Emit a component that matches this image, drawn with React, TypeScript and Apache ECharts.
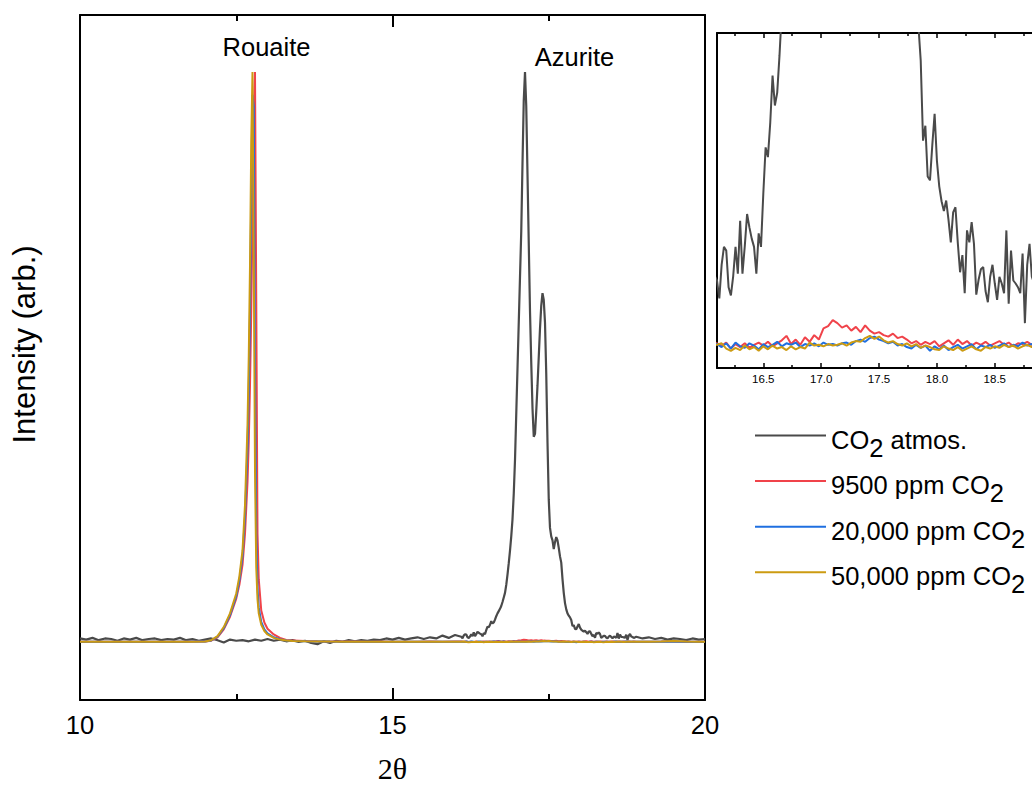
import React, { useEffect, useRef } from "react";
import * as echarts from "echarts";

const SANS = '"Liberation Sans", Arial, sans-serif';
const SERIF = '"Liberation Serif", "Times New Roman", serif';

const NAMES = ["CO2 atmos.", "9500 ppm CO2", "20,000 ppm CO2", "50,000 ppm CO2"];
const COLORS = ["#4a4a4a", "#f0434a", "#1f6fe0", "#cc9b12"];

const MAIN_X_TICKS = [10, 15, 20];
const INSET_MAJOR = [16.5, 17.0, 17.5, 18.0, 18.5];
const INSET_MINOR = [16.25, 16.75, 17.25, 17.75, 18.25, 18.75];

// sampling positions (2θ)
function grid(start: number, count: number, step: number): number[] {
  return Array.from({ length: count }, (_, i) => Math.round((start + i * step) * 100) / 100);
}
const ROUAITE_X = [12.0, 12.1, 12.2, 12.3, 12.4, 12.5, 12.55, 12.6, 12.64, 12.68, 12.7, 12.72, 12.74, 12.76, 12.78, 12.8, 12.82, 12.84, 12.86, 12.9, 12.95, 13.0, 13.1, 13.2, 13.3];
const HI_X = [18.9, 19.1, 19.3, 19.5, 19.7, 19.9, 20.0];
const BLACK_X = [...grid(10, 61, 0.1), ...grid(16.1, 139, 0.02), ...grid(18.9, 12, 0.1)];
const COLOR_X = [...grid(10, 10, 0.2), ...ROUAITE_X, ...grid(13.4, 14, 0.2), ...grid(16.1, 70, 0.04), ...HI_X];

// CO2 atmos. (black)
const atmosLow = [
  0.6, 0.4, 0.7, 0.3, 0.6, 0.5, 0.2, 0.6, 0.4, 0.7,
  0.3, 0.5, 0.6, 0.3, 0.5, 0.4, 0.7, 0.3, 0.5, 0.2,
  0.4, 0.6, 0.3, -0.1, 0.4, 0.2, 0.3, 0.1, 0.4, 0.2,
  0.5, 0.2, 0.4, 0.1, 0.3, 0.0, 0.2, -0.2, -0.4, 0.1,
  -0.2, 0.2, 0.0, 0.3, 0.1, 0.3, 0.2, 0.4, 0.3, 0.6,
  0.4, 0.7, 0.4, 0.6, 0.8, 0.5, 0.8, 0.6, 1.1, 0.7,
  1.2,
];
const atmosAzurite = [
  0.89, 0.65, 1.10, 1.34, 1.29, 0.80, 0.69, 0.95, 1.34, 0.98,
  1.69, 0.98, 1.35, 1.78, 1.60, 1.45, 1.34, 0.98, 1.52, 1.34,
  2.05, 2.67, 2.54, 3.00, 3.63, 3.23, 3.40, 3.90, 4.50, 5.00,
  5.40, 5.80, 6.30, 7.00, 7.80, 8.60, 10.0, 11.8, 13.8, 16.0,
  18.5, 21.5, 26.0, 31.9, 40.0, 48.0, 56.0, 64.0, 72.0, 84.0,
  95.0, 100, 94.0, 82.0, 70.0, 58.0, 49.0, 41.0, 36.0, 36.5,
  40.5, 45.0, 50.0, 55.0, 59.0, 61.2, 60.0, 56.0, 47.0, 35.0,
  25.0, 20.0, 18.5, 17.8, 16.3, 17.5, 18.4, 17.8, 16.5, 15.0,
  13.9, 11.0, 8.6, 6.8, 5.7, 5.0, 4.6, 4.3, 3.83, 2.76,
  2.96, 2.28, 2.23, 2.70, 3.12, 2.49, 2.15, 1.95, 1.82, 1.96,
  1.70, 1.40, 1.80, 1.87, 1.40, 1.00, 1.23, 0.72, 1.56, 1.40,
  1.67, 1.38, 0.70, 0.90, 1.04, 1.07, 0.75, 0.60, 0.94, 1.10,
  0.85, 0.63, 0.94, 0.85, 0.72, 1.56, 0.58, 1.29, 0.89, 0.85,
  0.80, 0.72, 1.25, 0.32, 1.10, 1.38, 0.94, 0.85, 0.70,
];
const atmosHigh = [0.9, 0.6, 0.8, 0.5, 0.7, 0.4, 0.6, 0.5, 0.3, 0.6, 0.4, 0.5];

// 9500 ppm (red)
const redLow = [0.02, 0.0, 0.03, 0.01, 0.02, 0.0, 0.03, 0.02, 0.04, 0.05];
const redPeak = [0.05, 0.2, 0.8, 2.2, 4.4, 7.6, 10.0, 13.5, 19, 28, 35, 45, 58, 74, 93, 100, 60, 19, 11, 5.5, 3.4, 2.3, 1.3, 0.7, 0.35];
const redMid = [0.22, 0.15, 0.11, 0.08, 0.06, 0.05, 0.04, 0.05, 0.03, 0.04, 0.03, 0.05, 0.04, 0.05];
const redInset = [
  0.05, 0.02, 0.06, -0.02, 0.04, 0.0, 0.05, -0.01, 0.03, 0.06,
  0.02, 0.07, 0.01, 0.05, 0.09, 0.15, 0.04, 0.10, 0.03, 0.13,
  0.07, 0.16, 0.10, 0.25, 0.28, 0.36, 0.32, 0.26, 0.29, 0.22,
  0.27, 0.20, 0.29, 0.22, 0.18, 0.20, 0.16, 0.14, 0.18, 0.12,
  0.14, 0.10, 0.05, 0.08, 0.03, 0.07, 0.04, 0.08, 0.01, 0.05,
  0.09, 0.03, 0.10, 0.04, 0.08, 0.02, 0.06, 0.03, 0.07, 0.02,
  0.05, 0.08, 0.03, 0.06, 0.01, 0.05, 0.04, 0.07, 0.03, 0.05,
];
const redHigh = [0.04, 0.03, 0.05, 0.08, 0.04, 0.03, 0.04];

// 20,000 ppm (blue)
const blueLow = [0.01, 0.02, 0.0, 0.02, 0.01, 0.03, 0.01, 0.02, 0.03, 0.05];
const bluePeak = [0.05, 0.25, 0.9, 2.4, 4.7, 8.0, 10.8, 15, 22, 34, 44, 58, 78, 96, 94, 48, 19, 9.5, 6.0, 3.5, 2.2, 1.5, 0.8, 0.45, 0.25];
const blueMid = [0.15, 0.1, 0.07, 0.05, 0.04, 0.03, 0.03, 0.02, 0.03, 0.02, 0.03, 0.02, 0.03, 0.04];
const blueInset = [
  0.04, 0.0, 0.05, -0.02, 0.06, 0.01, -0.01, 0.05, 0.02, -0.03,
  0.04, 0.0, 0.03, 0.07, 0.01, 0.05, 0.03, 0.06, 0.0, 0.04,
  0.02, 0.05, 0.01, 0.06, 0.03, 0.04, 0.02, 0.05, 0.06, 0.03,
  0.08, 0.10, 0.07, 0.12, 0.14, 0.10, 0.08, 0.05, 0.07, 0.02,
  0.04, 0.0, -0.02, 0.03, -0.01, 0.02, -0.05, 0.01, -0.03, 0.02,
  -0.04, 0.0, 0.03, -0.02, 0.01, 0.04, -0.03, 0.02, 0.0, 0.03,
  -0.01, 0.02, 0.05, 0.0, 0.03, 0.01, 0.06, 0.02, 0.04, 0.01,
];
const blueHigh = [0.02, 0.03, 0.02, 0.06, 0.03, 0.02, 0.03];

// 50,000 ppm (gold)
const goldLow = [0.0, 0.02, 0.01, 0.0, 0.02, 0.01, 0.03, 0.02, 0.03, 0.04];
const goldPeak = [0.05, 0.3, 1.0, 2.6, 5.0, 8.5, 11.5, 16, 24, 38, 50, 66, 88, 100, 68, 30, 13, 7.5, 5.0, 3.0, 1.9, 1.3, 0.7, 0.4, 0.25];
const goldMid = [0.15, 0.1, 0.07, 0.05, 0.04, 0.04, 0.03, 0.02, 0.03, 0.02, 0.02, 0.03, 0.02, 0.03];
const goldInset = [
  0.03, 0.05, -0.02, -0.05, -0.01, -0.04, 0.02, -0.03, 0.0, -0.05,
  0.01, -0.03, 0.02, -0.02, 0.0, -0.04, 0.01, -0.03, 0.0, -0.02,
  0.06, 0.02, 0.03, 0.01, 0.04, 0.02, 0.03, 0.05, 0.02, 0.06,
  0.08, 0.07, 0.12, 0.15, 0.11, 0.14, 0.09, 0.06, 0.08, 0.04,
  0.02, 0.05, 0.01, 0.04, -0.01, 0.02, 0.0, -0.03, -0.04, 0.01,
  -0.02, -0.04, 0.0, -0.05, -0.02, 0.01, -0.03, -0.05, 0.0, -0.02,
  0.01, -0.01, 0.03, 0.0, 0.02, -0.02, 0.01, 0.03, 0.0, 0.02,
];
const goldHigh = [0.02, 0.03, 0.05, 0.15, 0.06, 0.03, 0.02];

const SERIES_Y = [
  [...atmosLow, ...atmosAzurite, ...atmosHigh],
  [...redLow, ...redPeak, ...redMid, ...redInset, ...redHigh],
  [...blueLow, ...bluePeak, ...blueMid, ...blueInset, ...blueHigh],
  [...goldLow, ...goldPeak, ...goldMid, ...goldInset, ...goldHigh],
];
const SERIES_X = [BLACK_X, COLOR_X, COLOR_X, COLOR_X];

function pairs(xs: number[], ys: number[]) {
  return xs.map((x, i) => [x, ys[i]]);
}

function legendFormatter(name: string) {
  const parts = name.split("CO2");
  return parts.map((p) => (p ? `{m|${p}}` : "")).join("{m|CO}{s|2}");
}

const blackAxis = { color: "#000", width: 2 };

function buildOption() {
  const series: any[] = [];
  NAMES.forEach((name, i) => {
    series.push({
      name,
      type: "line",
      xAxisIndex: 0,
      yAxisIndex: 0,
      data: pairs(SERIES_X[i], SERIES_Y[i]),
      showSymbol: false,
      symbol: "none",
      color: COLORS[i],
      itemStyle: { color: COLORS[i] },
      lineStyle: { color: COLORS[i], width: i === 0 ? 2.2 : 2 },
      z: 2 + i,
    });
  });
  NAMES.forEach((name, i) => {
    series.push({
      name,
      type: "line",
      xAxisIndex: 2,
      yAxisIndex: 2,
      data: pairs(SERIES_X[i], SERIES_Y[i]),
      showSymbol: false,
      symbol: "none",
      clip: true,
      color: COLORS[i],
      itemStyle: { color: COLORS[i] },
      lineStyle: { color: COLORS[i], width: 2 },
      z: 2 + i,
    });
  });

  const insetLine = { color: "#000", width: 2 };
  const insetTick = { color: "#000", width: 1.5 };
  return {
    animation: false,
    backgroundColor: "#ffffff",
    grid: [
      { left: 80, top: 15, width: 625, height: 685, outerBoundsMode: "none", containLabel: false },
      { left: 717, top: 33, width: 316, height: 335, outerBoundsMode: "none", containLabel: false },
    ],
    legend: {
      data: NAMES,
      orient: "vertical",
      left: 755,
      top: 410.5,
      padding: 0,
      itemGap: -4.4,
      itemWidth: 71,
      itemHeight: 2,
      icon: "rect",
      selectedMode: false,
      formatter: legendFormatter,
      textStyle: {
        color: "#000",
        fontFamily: SANS,
        fontSize: 25.5,
        rich: {
          m: { color: "#000", fontFamily: SANS, fontSize: 25.5, lineHeight: 30, padding: [8, 0, 0, 0] },
          s: { color: "#000", fontFamily: SANS, fontSize: 25.5, lineHeight: 30, padding: [24, 0, 0, 0] },
        },
      },
    },
    xAxis: [
      {
        gridIndex: 0,
        type: "value",
        position: "bottom",
        min: 10,
        max: 20,
        interval: 5,
        axisLine: { show: true, onZero: false, lineStyle: blackAxis },
        axisTick: { show: true, inside: true, length: 12, lineStyle: blackAxis },
        minorTick: { show: true, splitNumber: 2, length: 6, lineStyle: blackAxis },
        axisLabel: {
          show: true,
          margin: 12,
          fontSize: 25.5,
          color: "#000",
          fontFamily: SANS,
          showMinLabel: true,
          showMaxLabel: true,
          formatter: (v: number) => (MAIN_X_TICKS.includes(v) ? String(v) : ""),
        },
        splitLine: { show: false },
        minorSplitLine: { show: false },
        name: "2θ",
        nameLocation: "middle",
        nameGap: 53,
        nameTextStyle: { fontFamily: SERIF, fontSize: 30, color: "#000" },
      },
      {
        gridIndex: 0,
        type: "value",
        position: "top",
        min: 10,
        max: 20,
        interval: 5,
        axisLine: { show: true, onZero: false, lineStyle: blackAxis },
        axisTick: { show: true, inside: true, length: 12, lineStyle: blackAxis },
        minorTick: { show: true, splitNumber: 2, length: 6, lineStyle: blackAxis },
        axisLabel: { show: false },
        splitLine: { show: false },
        minorSplitLine: { show: false },
      },
      {
        gridIndex: 1,
        type: "value",
        position: "bottom",
        min: 16.1,
        max: 18.83,
        axisLine: { show: true, onZero: false, lineStyle: insetLine },
        axisTick: { show: true, inside: true, length: 5, customValues: INSET_MAJOR, lineStyle: insetTick },
        axisLabel: {
          show: true,
          customValues: INSET_MAJOR,
          formatter: (v: number) => v.toFixed(1),
          fontSize: 11.5,
          margin: 5,
          color: "#000",
          fontFamily: SANS,
        },
        splitLine: { show: false },
      },
      {
        gridIndex: 1,
        type: "value",
        position: "bottom",
        min: 16.1,
        max: 18.83,
        axisLine: { show: false, onZero: false },
        axisTick: { show: true, inside: true, length: 3, customValues: INSET_MINOR, lineStyle: insetTick },
        axisLabel: { show: false },
        splitLine: { show: false },
      },
      {
        gridIndex: 1,
        type: "value",
        position: "top",
        min: 16.1,
        max: 18.83,
        axisLine: { show: true, onZero: false, lineStyle: insetLine },
        axisTick: { show: true, inside: true, length: 5, customValues: INSET_MAJOR, lineStyle: insetTick },
        axisLabel: { show: false },
        splitLine: { show: false },
      },
      {
        gridIndex: 1,
        type: "value",
        position: "top",
        min: 16.1,
        max: 18.83,
        axisLine: { show: false, onZero: false },
        axisTick: { show: true, inside: true, length: 3, customValues: INSET_MINOR, lineStyle: insetTick },
        axisLabel: { show: false },
        splitLine: { show: false },
      },
    ],
    yAxis: [
      {
        gridIndex: 0,
        type: "value",
        position: "left",
        min: -10.2,
        max: 110,
        axisLine: { show: true, onZero: false, lineStyle: blackAxis },
        axisTick: { show: false },
        axisLabel: { show: false },
        splitLine: { show: false },
        name: "Intensity (arb.)",
        nameLocation: "middle",
        nameGap: 40,
        nameTextStyle: { fontFamily: SANS, fontSize: 31, color: "#000", padding: [0, 0, 0, 26] },
      },
      {
        gridIndex: 0,
        type: "value",
        position: "right",
        min: -10.2,
        max: 110,
        axisLine: { show: true, onZero: false, lineStyle: blackAxis },
        axisTick: { show: false },
        axisLabel: { show: false },
        splitLine: { show: false },
      },
      {
        gridIndex: 1,
        type: "value",
        position: "left",
        min: -0.28,
        max: 4.2,
        axisLine: { show: true, onZero: false, lineStyle: insetLine },
        axisTick: { show: false },
        axisLabel: { show: false },
        splitLine: { show: false },
      },
    ],
    graphic: [
      {
        type: "text",
        x: 266.5,
        y: 47,
        style: { text: "Rouaite", fontFamily: SANS, fontSize: 25.5, fill: "#000", align: "center", verticalAlign: "middle" },
      },
      {
        type: "text",
        x: 574.5,
        y: 57,
        style: { text: "Azurite", fontFamily: SANS, fontSize: 25.5, fill: "#000", align: "center", verticalAlign: "middle" },
      },
    ],
    series,
  };
}

export default function App() {
  const ref = useRef<HTMLDivElement | null>(null);
  useEffect(() => {
    if (!ref.current) return;
    const chart = echarts.init(ref.current, null, { renderer: "svg" });
    chart.setOption(buildOption() as any);
    return () => chart.dispose();
  }, []);
  return (
    <div
      ref={ref}
      style={{ position: "absolute", left: 0, top: 0, width: 1032, height: 786, background: "#fff", overflow: "hidden" }}
    />
  );
}
